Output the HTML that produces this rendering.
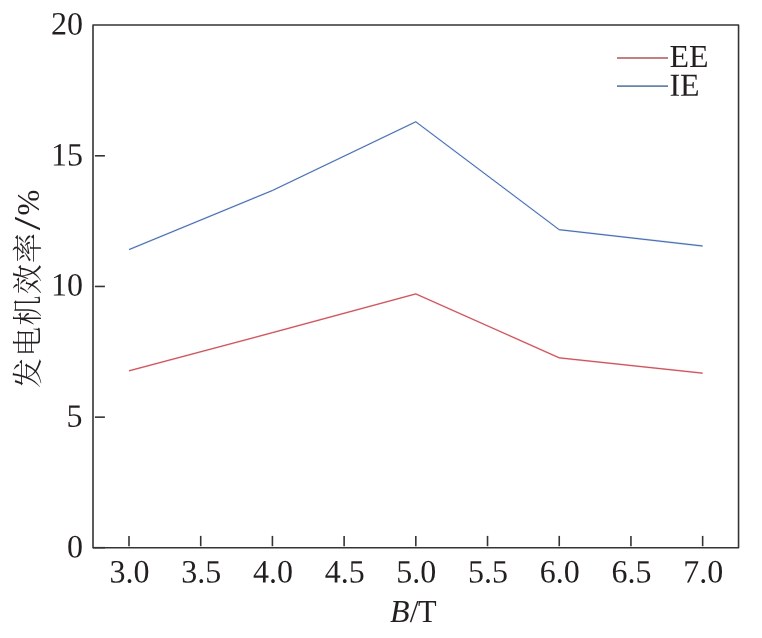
<!DOCTYPE html>
<html lang="zh">
<head>
<meta charset="utf-8">
<title>发电机效率 - B/T</title>
<style>
html,body{margin:0;padding:0;background:#fff;}
body{width:762px;height:638px;overflow:hidden;position:relative;}
svg{position:absolute;left:0;top:0;display:block;will-change:transform;transform:translateZ(0);}
text{font-family:"Liberation Serif","Noto Serif CJK SC",serif;font-size:32px;fill:#231f20;}
.cjk{font-family:"Noto Serif CJK SC","Liberation Serif",serif;font-weight:300;font-size:30px;letter-spacing:1.25px;}
.ax{stroke:#343434;stroke-width:1.6;fill:none;}
</style>
</head>
<body>
<svg width="762" height="638" viewBox="0 0 762 638">
  <!-- frame -->
  <rect class="ax" x="93" y="24.95" width="645.55" height="522.75" stroke-linejoin="round"/>
  <!-- y ticks -->
  <g class="ax">
    <line x1="94.9" y1="155.8" x2="104.9" y2="155.8"/>
    <line x1="94.9" y1="286.45" x2="104.9" y2="286.45"/>
    <line x1="94.9" y1="417.15" x2="104.9" y2="417.15"/>
    <line x1="93" y1="547.7" x2="104.9" y2="547.7"/>
  </g>
  <!-- x ticks -->
  <g class="ax">
    <line x1="129.00" y1="535.9" x2="129.00" y2="546.2"/>
    <line x1="200.71" y1="535.9" x2="200.71" y2="546.2"/>
    <line x1="272.41" y1="535.9" x2="272.41" y2="546.2"/>
    <line x1="344.12" y1="535.9" x2="344.12" y2="546.2"/>
    <line x1="415.82" y1="535.9" x2="415.82" y2="546.2"/>
    <line x1="487.53" y1="535.9" x2="487.53" y2="546.2"/>
    <line x1="559.24" y1="535.9" x2="559.24" y2="546.2"/>
    <line x1="630.94" y1="535.9" x2="630.94" y2="546.2"/>
    <line x1="702.65" y1="535.9" x2="702.65" y2="546.2"/>
  </g>
  <!-- y tick labels -->
  <text transform="translate(83,34.65) rotate(0.06) scale(1,1.02)" text-anchor="end">20</text>
  <text transform="translate(83,165.45) rotate(0.06) scale(1,1.02)" text-anchor="end">15</text>
  <text transform="translate(83,295.65) rotate(0.06) scale(1,1.02)" text-anchor="end">10</text>
  <text transform="translate(82.4,426.7) rotate(0.06) scale(1,1.02)" text-anchor="end">5</text>
  <text transform="translate(83,557.6) rotate(0.06) scale(1,1.02)" text-anchor="end">0</text>
  <!-- x tick labels -->
  <text transform="translate(129.5,582.55) rotate(0.06) scale(1,1.02)" text-anchor="middle">3.0</text>
  <text transform="translate(201.21,582.55) rotate(0.06) scale(1,1.02)" text-anchor="middle">3.5</text>
  <text transform="translate(272.91,582.55) rotate(0.06) scale(1,1.02)" text-anchor="middle">4.0</text>
  <text transform="translate(344.62,582.55) rotate(0.06) scale(1,1.02)" text-anchor="middle">4.5</text>
  <text transform="translate(416.32,582.55) rotate(0.06) scale(1,1.02)" text-anchor="middle">5.0</text>
  <text transform="translate(488.03,582.55) rotate(0.06) scale(1,1.02)" text-anchor="middle">5.5</text>
  <text transform="translate(559.74,582.55) rotate(0.06) scale(1,1.02)" text-anchor="middle">6.0</text>
  <text transform="translate(631.44,582.55) rotate(0.06) scale(1,1.02)" text-anchor="middle">6.5</text>
  <text transform="translate(703.15,582.55) rotate(0.06) scale(1,1.02)" text-anchor="middle">7.0</text>
  <!-- axis titles -->
  <text transform="translate(390.1,621.9) rotate(0.06)" text-anchor="start"><tspan font-style="italic">B</tspan>/<tspan dx="-0.6" textLength="18.6" lengthAdjust="spacingAndGlyphs">T</tspan></text>
  <text class="cjk" transform="translate(38.3,387.9) rotate(-90)">发电机效率</text>
  <text transform="translate(39.9,230.3) rotate(-90) scale(1.25,1)" style="font-size:38.5px">/</text>
  <text transform="translate(39,215.5) rotate(-90)" style="font-size:31px">%</text>
  <!-- data lines -->
  <g fill="none" stroke-linejoin="miter">
    <polyline stroke="#5f98f5" stroke-width="1.8" stroke-opacity="0.42"
      points="129,249.6 272.4,190.5 415.8,121.8 559.2,229.7 702.65,246"/>
    <polyline stroke="#2f4d84" stroke-width="0.8"
      points="129,249.6 272.4,190.5 415.8,121.8 559.2,229.7 702.65,246"/>
    <polyline stroke="#ff3c48" stroke-width="1.8" stroke-opacity="0.42"
      points="129,370.8 272.4,332.7 415.8,293.9 559.2,357.8 702.65,373.2"/>
    <polyline stroke="#a03038" stroke-width="0.72"
      points="129,370.8 272.4,332.7 415.8,293.9 559.2,357.8 702.65,373.2"/>
  </g>
  <!-- legend -->
  <line x1="617" y1="58" x2="668" y2="58" stroke="#c47f82" stroke-width="1.8"/>
  <line x1="617" y1="86.15" x2="668" y2="86.15" stroke="#6683aa" stroke-width="1.6"/>
  <text transform="translate(669.4,67) rotate(0.06)" text-anchor="start">EE</text>
  <text transform="translate(669.4,95.8) rotate(0.06)" text-anchor="start">IE</text>
</svg>
</body>
</html>
